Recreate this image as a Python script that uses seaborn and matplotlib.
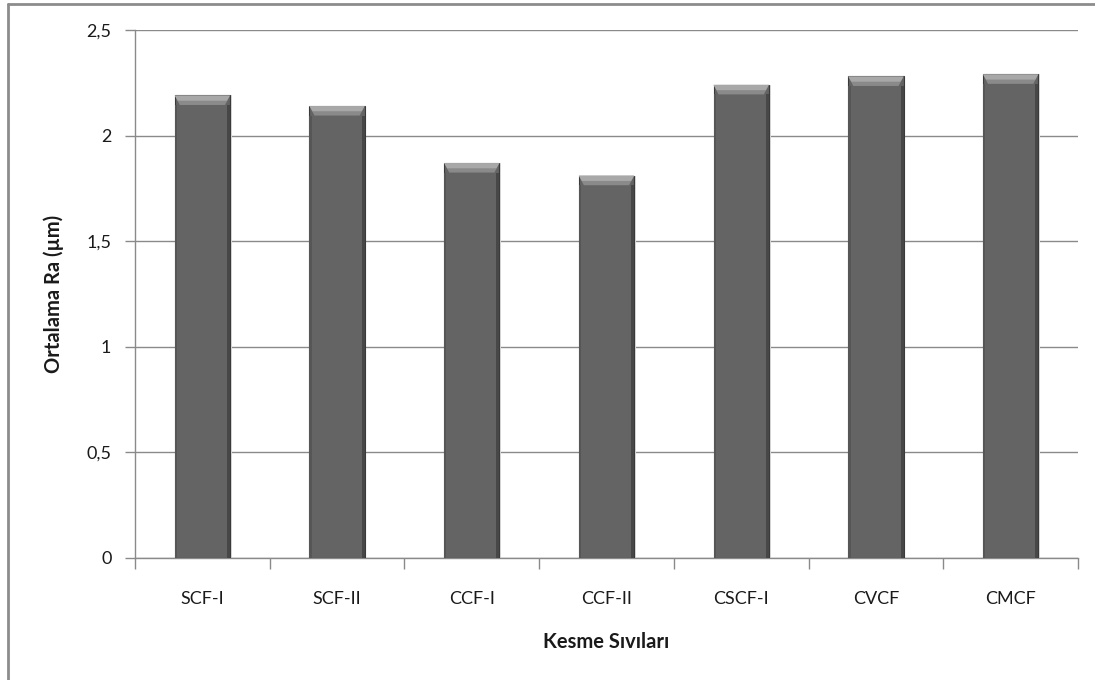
import matplotlib
matplotlib.use("Agg")
import matplotlib.pyplot as plt
import seaborn as sns
import pandas as pd
from matplotlib.patches import Polygon, Rectangle
from matplotlib.lines import Line2D
from matplotlib.ticker import FuncFormatter, FixedLocator

# Mean surface roughness per cutting fluid
fluids = ["SCF-I", "SCF-II", "CCF-I", "CCF-II", "CSCF-I", "CVCF", "CMCF"]
ra_mean = [2.19, 2.14, 1.87, 1.81, 2.24, 2.28, 2.29]
y_ticks = [0, 0.5, 1, 1.5, 2, 2.5]

df = pd.DataFrame({"fluid": fluids, "ra": ra_mean})

sns.set_theme(style="white")
plt.rcParams["font.family"] = ["Lato", "DejaVu Sans"]

fig = plt.figure(figsize=(10.95, 6.8), dpi=100)
ax = fig.add_axes([135 / 1095, 1 - 558 / 680, (1078 - 135) / 1095, (558 - 30) / 680])

bar_color = "#646464"
sns.barplot(data=df, x="fluid", y="ra", color=bar_color, saturation=1,
            width=0.41, ax=ax, zorder=3, edgecolor="#3a3a3a", linewidth=0.8)

ax.set_ylim(0, 2.5)
ax.set_xlim(-0.5, len(fluids) - 0.5)
ax.yaxis.set_major_locator(FixedLocator(y_ticks))
ax.yaxis.set_major_formatter(FuncFormatter(lambda v, p: f"{v:g}".replace(".", ",")))

# Bevel shading on each bar: light top band, darker side edges
for patch in ax.patches:
    x0, y0 = patch.get_x(), patch.get_y()
    w, h = patch.get_width(), patch.get_height()
    side = w * 0.09
    band = 0.045
    ax.add_patch(Polygon([[x0, y0 + h], [x0 + w, y0 + h],
                          [x0 + w - side, y0 + h - band], [x0 + side, y0 + h - band]],
                         closed=True, facecolor="#8a8a8a", edgecolor="none", zorder=4))
    ax.add_patch(Polygon([[x0, y0 + h], [x0 + w, y0 + h],
                          [x0 + w - side * 0.6, y0 + h - band * 0.55],
                          [x0 + side * 0.6, y0 + h - band * 0.55]],
                         closed=True, facecolor="#a8a8a8", edgecolor="none", zorder=4))
    ax.add_patch(Rectangle((x0 + w - side * 0.6, y0), side * 0.6, h - band,
                           facecolor="#474747", edgecolor="none", zorder=4))
    ax.add_patch(Rectangle((x0, y0), side * 0.45, h - band,
                           facecolor="#565656", edgecolor="none", zorder=4))
    ax.add_patch(Rectangle((x0 + w, y0), side * 0.35, h,
                           facecolor="#dcdcdc", edgecolor="none", zorder=2))

# Gridlines and axes
grid_color = "#8a8a8a"
ax.grid(axis="y", color=grid_color, linewidth=1.0, zorder=0)
ax.set_axisbelow(True)
for s in ["top", "right"]:
    ax.spines[s].set_visible(False)
for s in ["left", "bottom"]:
    ax.spines[s].set_color(grid_color)
    ax.spines[s].set_linewidth(1.0)

ax.tick_params(axis="y", which="major", left=True, length=7, width=1.0,
               color=grid_color, labelsize=13, labelcolor="#1a1a1a", pad=10)
ax.tick_params(axis="x", which="major", bottom=False, length=0,
               labelsize=13, labelcolor="#1a1a1a", pad=24)
ax.xaxis.set_minor_locator(FixedLocator([i - 0.5 for i in range(len(fluids) + 1)]))
ax.tick_params(axis="x", which="minor", bottom=True, length=8, width=1.0, color=grid_color)

ax.set_xlabel("Kesme Sıvıları", fontsize=14.5, fontweight="bold", color="#1a1a1a", labelpad=18)
ax.set_ylabel("Ortalama Ra (µm)", fontsize=14.5, fontweight="bold", color="#1a1a1a", labelpad=16)

# Outer chart frame (left and top edges)
frame_color = "#8c8c8c"
fig.add_artist(Line2D([8 / 1095, 8 / 1095], [0, 1 - 4 / 680], transform=fig.transFigure,
                      color=frame_color, linewidth=2))
fig.add_artist(Line2D([8 / 1095, 1], [1 - 4 / 680, 1 - 4 / 680], transform=fig.transFigure,
                      color=frame_color, linewidth=2))

fig.savefig("out.png", dpi=100, facecolor="white")
